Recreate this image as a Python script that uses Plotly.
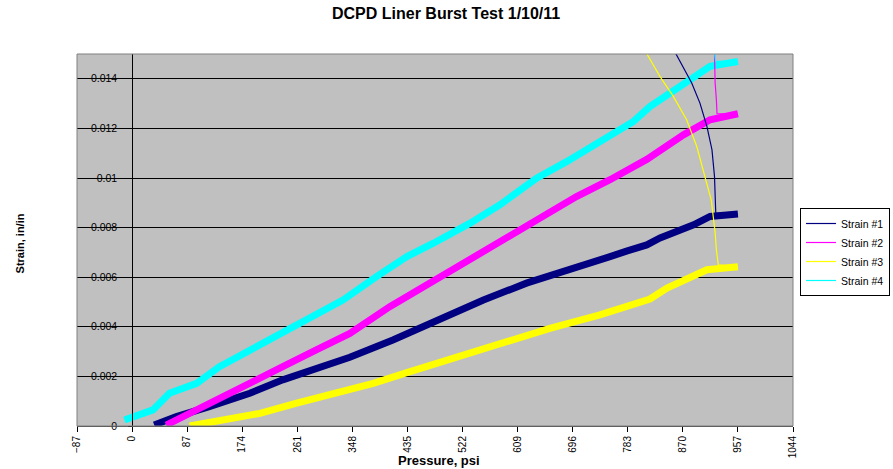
import plotly.graph_objects as go

# pressure (psi) / strain (in/in): loading band, then post-burst tail
p1 = [35, 70, 122, 186, 238, 291, 344, 412, 481, 555, 623, 692, 755, 781, 813, 834, 887, 913, 957]
s1 = [0.00004, 0.00038, 0.00078, 0.00132, 0.00186, 0.00233, 0.00277, 0.00347, 0.00428, 0.00508,
      0.00576, 0.00629, 0.00683, 0.00705, 0.0073, 0.00758, 0.00811, 0.00845, 0.00855]
p1_tail = [957, 922, 920, 916, 908, 897, 884, 871, 859]
s1_tail = [0.00855, 0.00858, 0.01006, 0.01114, 0.01208, 0.01302, 0.01383, 0.01443, 0.01501]

p2 = [54, 91, 138, 191, 238, 291, 344, 407, 470, 534, 592, 650, 702, 755, 813, 871, 913, 957]
s2 = [0.00004, 0.00051, 0.00105, 0.00172, 0.00239, 0.00307, 0.00373, 0.00481, 0.00576, 0.0067,
      0.00764, 0.00845, 0.00925, 0.00993, 0.01075, 0.01174, 0.01235, 0.01259]
p2_tail = [957, 924, 923, 921, 920]
s2_tail = [0.01259, 0.01259, 0.01315, 0.01383, 0.01504]

p3 = [91, 138, 202, 260, 323, 381, 434, 502, 581, 660, 739, 818, 845, 876, 908, 957]
s3 = [0.0, 0.00024, 0.00051, 0.00092, 0.00132, 0.00172, 0.00215, 0.0027, 0.0033, 0.00394,
      0.00448, 0.00512, 0.00556, 0.00596, 0.0063, 0.00642]
p3_tail = [957, 926, 923, 921, 915, 905, 892, 876, 855, 834, 813]
s3_tail = [0.00642, 0.0065, 0.0071, 0.0078, 0.0091, 0.01006, 0.01127, 0.01235, 0.01329, 0.01409, 0.01501]

p4 = [-12, 33, 59, 102, 138, 186, 238, 281, 333, 386, 434, 476, 534, 581, 639, 687, 744, 792,
      818, 871, 913, 957]
s4 = [0.00024, 0.00065, 0.00132, 0.00172, 0.00239, 0.00307, 0.00374, 0.00441, 0.00508, 0.00602,
      0.00683, 0.00737, 0.00818, 0.00892, 0.00999, 0.01067, 0.01154, 0.01228, 0.01288, 0.01383,
      0.0145, 0.0147]
p4_tail = [957, 922, 920]
s4_tail = [0.0147, 0.0147, 0.01505]

names = ["Strain #1", "Strain #2", "Strain #3", "Strain #4"]
colors = ["#000080", "#FF00FF", "#FFFF00", "#00FFFF"]
x_ticks = list(range(-87, 1045, 87))
y_ticks = [0, 0.002, 0.004, 0.006, 0.008, 0.01, 0.012, 0.014]
y_labels = ["0", "0.002", "0.004", "0.006", "0.008", "0.01", "0.012", "0.014"]

bands = [(p1, s1), (p2, s2), (p3, s3), (p4, s4)]
tails = [(p1_tail, s1_tail), (p2_tail, s2_tail), (p3_tail, s3_tail), (p4_tail, s4_tail)]

FONT = "Arial, Liberation Sans, sans-serif"

fig = go.Figure()
for (px, sy), name, c in zip(bands, names, colors):
    fig.add_trace(go.Scatter(x=px, y=sy, mode="lines", name=name, legendgroup=name,
                             showlegend=False, line=dict(color=c, width=7)))
for i, ((px, sy), name, c) in enumerate(zip(tails, names, colors)):
    fig.add_trace(go.Scatter(x=px, y=sy, mode="lines", name=name, legendgroup=name,
                             legendrank=i + 1, line=dict(color=c, width=1.2)))

fig.update_layout(
    width=893, height=469,
    margin=dict(l=77, r=100, t=54, b=43),
    paper_bgcolor="white",
    plot_bgcolor="#C0C0C0",
    font=dict(family=FONT, size=10, color="black"),
    xaxis=dict(range=[-87, 1044], tickvals=x_ticks, tickangle=-90, ticks="outside",
               ticklen=5, tickcolor="black", showgrid=False, zeroline=False,
               showline=True, linecolor="#404040", linewidth=1, mirror=False,
               tickfont=dict(size=10), automargin=False),
    yaxis=dict(range=[0, 0.015], tickvals=y_ticks, ticktext=y_labels,
               anchor="free", position=0.0772, side="left",
               showgrid=True, gridcolor="black", gridwidth=1, zeroline=False,
               showline=True, linecolor="black", linewidth=1,
               ticks="outside", ticklen=4, tickcolor="black", ticklabelstandoff=9,
               tickfont=dict(size=10.5), automargin=False),
    legend=dict(xref="container", yref="container", x=0.8959, y=0.5565,
                xanchor="left", yanchor="top",
                bgcolor="white", bordercolor="black", borderwidth=1,
                font=dict(size=10.5), itemwidth=30, tracegroupgap=0),
    showlegend=True,
)

# plot area border
fig.add_shape(type="rect", xref="paper", yref="paper", x0=0, y0=0, x1=1, y1=1,
              line=dict(color="#808080", width=1), layer="above")

fig.add_annotation(text="<b>DCPD Liner Burst Test 1/10/11</b>", xref="paper", yref="paper",
                   x=0.515, y=1.108, xanchor="center", yanchor="middle",
                   showarrow=False, font=dict(size=16))
fig.add_annotation(text="<b>Pressure, psi</b>", xref="paper", yref="paper",
                   x=0.506, y=-0.094, xanchor="center", yanchor="middle",
                   showarrow=False, font=dict(size=13))
fig.add_annotation(text="<b>Strain, in/in</b>", xref="paper", yref="paper",
                   x=-0.080, y=0.49, xanchor="center", yanchor="middle",
                   textangle=-90, showarrow=False, font=dict(size=11))

# drop the browser's default body margin so the figure sits at the page corner
fig.write_html("out.html", config={"displayModeBar": False},
               post_script="document.body.style.margin='0';")
